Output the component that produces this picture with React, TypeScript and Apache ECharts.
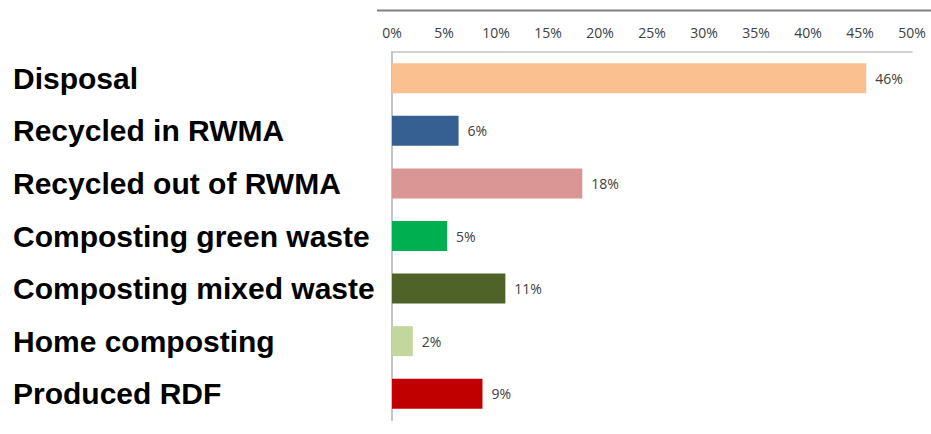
import React, { useEffect, useRef } from "react";
import * as echarts from "echarts";

const categories = [
  "Disposal",
  "Recycled in RWMA",
  "Recycled out of RWMA",
  "Composting green waste",
  "Composting mixed waste",
  "Home composting",
  "Produced RDF",
];
const values = [45.6, 6.4, 18.3, 5.3, 10.9, 2.0, 8.7];
const barColors = ["#FAC090", "#376092", "#D99694", "#00B050", "#4F6228", "#C3D69B", "#C00000"];
const axisMin = 0;
const axisMax = 50;
const axisStep = 5;

export default function App() {
  const ref = useRef<HTMLDivElement>(null);
  useEffect(() => {
    document.body.style.margin = "0";
    const chart = echarts.init(ref.current!, undefined, { renderer: "svg" });
    chart.setOption({
      animation: false,
      backgroundColor: "#ffffff",
      grid: { left: 392, right: 19, top: 52, bottom: 14, containLabel: false },
      xAxis: {
        type: "value",
        position: "top",
        min: axisMin,
        max: axisMax,
        interval: axisStep,
        axisLine: { show: true, lineStyle: { color: "#c4c4c4", width: 1.5 } },
        axisTick: { show: false },
        splitLine: { show: false },
        axisLabel: {
          formatter: "{value}%",
          margin: 13,
          color: "#404040",
          fontSize: 14,
          fontFamily: "Open Sans, Noto Sans, sans-serif",
        },
      },
      yAxis: {
        type: "category",
        inverse: true,
        data: categories,
        axisLine: { show: true, lineStyle: { color: "#c4c4c4", width: 2 } },
        axisTick: { show: false },
        axisLabel: {
          align: "left",
          margin: 379,
          fontSize: 30,
          fontWeight: "bold",
          color: "#000000",
          fontFamily: "Liberation Sans, Arial, sans-serif",
        },
      },
      graphic: [
        {
          type: "line",
          shape: { x1: 377, y1: 10.5, x2: 931, y2: 10.5 },
          style: { stroke: "#808080", lineWidth: 2 },
        },
      ],
      series: [
        {
          type: "bar",
          barWidth: 30,
          data: values.map((v, i) => ({
            value: v,
            itemStyle: { color: barColors[i] },
          })),
          label: {
            show: true,
            position: "right",
            distance: 9,
            formatter: (p: any) => Math.round(p.value) + "%",
            color: "#404040",
            fontSize: 14,
            fontFamily: "Open Sans, Noto Sans, sans-serif",
          },
        },
      ],
    });
    return () => chart.dispose();
  }, []);
  return <div ref={ref} style={{ width: 931, height: 434 }} />;
}
